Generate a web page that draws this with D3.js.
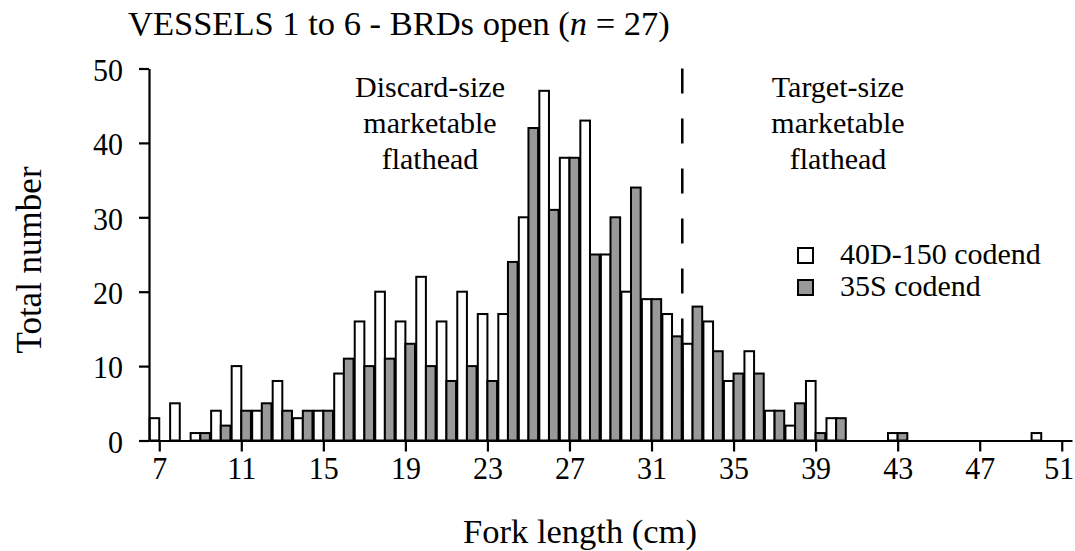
<!DOCTYPE html>
<html>
<head>
<meta charset="utf-8">
<script src="https://cdn.jsdelivr.net/npm/d3@7"></script>
<style>
  html, body { margin: 0; padding: 0; background: #fff; }
  svg { display: block; font-family: "Liberation Serif", "Times New Roman", serif; }
</style>
</head>
<body>
<svg id="chart" width="1075" height="551"></svg>
<script>
// Fork length classes (cm)
const lengths = d3.range(7, 52);
// 40D-150 codend counts
const codend40D = [3,5,1,4,10,4,8,3,4,9,16,20,16,22,16,20,17,17,30,47,38,43,25,20,19,17,13,16,8,12,4,2,8,3,0,0,1,0,0,0,0,0,0,1,0];
// 35S codend counts
const codend35S = [0,0,1,2,4,5,4,4,4,11,10,11,13,10,8,10,8,24,42,31,38,25,30,34,19,14,18,12,9,9,4,5,1,3,0,0,1,0,0,0,0,0,0,0,0];
const xTicks = [7,11,15,19,23,27,31,35,39,43,47,51];
const yTicks = [0,10,20,30,40,50];
const seriesNames = ["40D-150 codend", "35S codend"];
const seriesColors = ["#ffffff", "#999999"];
const cutoff = 32.5;

const svg = d3.select("#chart");
const x = d3.scaleLinear().domain([6.5, 51.5]).range([149, 1072]);
const y = d3.scaleLinear().domain([0, 50]).range([440.5, 68.5]);
const halfW = 0.47;
const stretch = 1.07;

// bars
const series = [codend40D, codend35S];
series.forEach((vals, si) => {
  const data = lengths.map((l, i) => ({l, v: vals[i]})).filter(d => d.v > 0);
  svg.append("g").selectAll("rect").data(data).enter().append("rect")
    .attr("x", d => si === 0 ? x(d.l - halfW) : x(d.l))
    .attr("width", d => x(d.l + halfW) - x(d.l))
    .attr("y", d => y(d.v))
    .attr("height", d => y(0) - y(d.v))
    .attr("fill", seriesColors[si])
    .attr("stroke", "#000")
    .attr("stroke-width", 2);
});

// axes
const xAxis = d3.axisBottom(x).tickValues(xTicks).tickSize(11).tickSizeOuter(0).tickPadding(4);
const gx = svg.append("g").attr("transform", `translate(0,${y(0)})`).call(xAxis);
gx.select(".domain").attr("stroke-width", 2.2);
gx.selectAll(".tick line").attr("stroke-width", 2.2);
gx.selectAll(".tick text").attr("font-size", 30).attr("font-family", "Liberation Serif").attr("fill", "#000")
  .attr("transform", d => `translate(${d === 51 ? -3 : 0},0) scale(1,${stretch})`);

const yAxis = d3.axisLeft(y).tickValues(yTicks).tickSize(10).tickSizeOuter(0).tickPadding(16);
const gy = svg.append("g").attr("transform", `translate(${x(6.5)},0)`).call(yAxis);
gy.select(".domain").attr("stroke-width", 2.2);
gy.selectAll(".tick line").attr("stroke-width", 2.2);
gy.selectAll(".tick text").attr("font-size", 30).attr("font-family", "Liberation Serif").attr("fill", "#000")
  .attr("transform", `translate(0,1.5) scale(1,${stretch})`);

// cutoff dashed line
svg.append("line")
  .attr("x1", x(cutoff)).attr("x2", x(cutoff))
  .attr("y1", y(0)).attr("y2", 68)
  .attr("stroke", "#000").attr("stroke-width", 2.5)
  .attr("stroke-dasharray", "25,25").attr("stroke-dashoffset", 3);

// title
const title = svg.append("text").attr("x", 128).attr("y", 35).attr("font-size", 34.5);
title.append("tspan").text("VESSELS 1 to 6 - BRDs open (");
title.append("tspan").attr("font-style", "italic").text("n");
title.append("tspan").text(" = 27)");

// annotations
const ann = [
  {cx: 430, lines: ["Discard-size", "marketable", "flathead"]},
  {cx: 838, lines: ["Target-size", "marketable", "flathead"]}
];
ann.forEach(a => {
  const t = svg.append("text").attr("text-anchor", "middle").attr("font-size", 30);
  a.lines.forEach((ln, i) => t.append("tspan").attr("x", a.cx).attr("y", 97 + i * 36).text(ln));
});

// legend
seriesNames.forEach((name, i) => {
  svg.append("rect").attr("x", 798).attr("y", 248 + i * 32).attr("width", 15).attr("height", 15)
    .attr("fill", seriesColors[i]).attr("stroke", "#000").attr("stroke-width", 2);
  svg.append("text").attr("x", 840).attr("y", 264 + i * 32).attr("font-size", 30).text(name);
});

// axis titles
svg.append("text").attr("x", 580).attr("y", 543).attr("text-anchor", "middle").attr("font-size", 34.5).text("Fork length (cm)");
svg.append("text").attr("transform", "translate(41,260) rotate(-90)").attr("text-anchor", "middle").attr("font-size", 35).text("Total number");
</script>
</body>
</html>
